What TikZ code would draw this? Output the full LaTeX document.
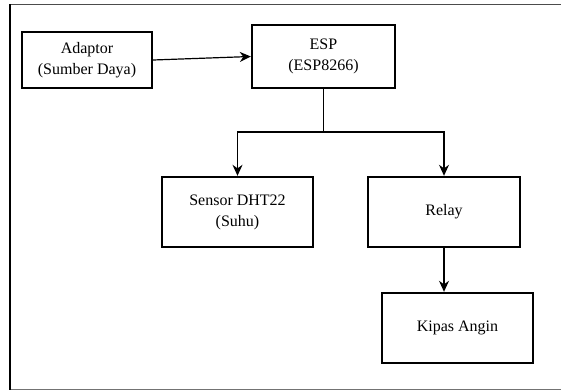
\documentclass[tikz,border=0pt]{standalone}
\usepackage{fontspec}
\setmainfont{Liberation Serif}
\usetikzlibrary{positioning, arrows.meta}

\begin{document}
\begin{tikzpicture}[
    x=1pt, y=-1pt,
    block/.style={draw, rectangle, line width=2.4pt, align=center, inner sep=0pt,
        font=\fontsize{16}{21}\selectfont},
    link/.style={line width=1.2pt},
    >={Stealth[length=11pt, width=10pt]}
]
\useasboundingbox (0,0) rectangle (561,390);
% outer frame (right side runs off the page)
\draw[line width=1pt, black!70] (570,5) -- (10,5);
\draw[line width=1pt, black!55] (10,389) -- (570,389);
\draw[line width=2.2pt] (10,4.5) -- (10,389.5);

\node[block, minimum width=130pt, minimum height=56pt] (adaptor) at (87,60) {Adaptor\\(Sumber Daya)};
\node[block, minimum width=143pt, minimum height=63pt] (esp) at (323.5,56.5) {ESP\\(ESP8266)};
\node[block, minimum width=151pt, minimum height=70pt] (sensor) at (237.5,212) {Sensor DHT22\\(Suhu)};
\node[block, minimum width=152pt, minimum height=70pt] (relay) at (444,212) {Relay};
\node[block, minimum width=151pt, minimum height=70pt] (kipas) at (457.5,328) {Kipas Angin};
\coordinate (split) at (esp.south |- 0,132);

\draw[link, ->] (adaptor.east) -- (esp.west);
\draw[link] (esp.south) -- (split);
\draw[link, ->] (split) -| (sensor.north);
\draw[link, ->] (split) -| (relay.north);
\draw[link, ->] (relay.south) -- (relay.south |- kipas.north);
\end{tikzpicture}
\end{document}
